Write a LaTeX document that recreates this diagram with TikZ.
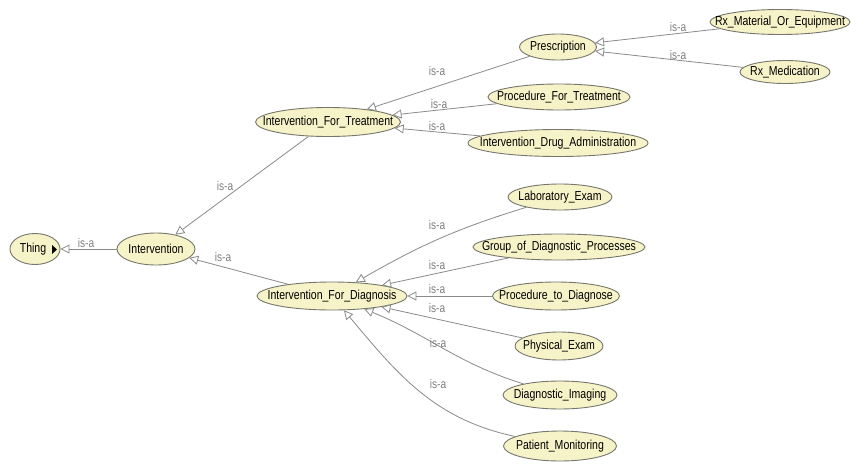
\documentclass[tikz,border=0pt]{standalone}
\usepackage{fontspec}
\setmainfont{Liberation Sans}[FakeStretch=0.81]
\usetikzlibrary{shapes.geometric,arrows.meta}
\definecolor{clsfill}{HTML}{F7F3C8}
\definecolor{clsline}{HTML}{76766C}
\definecolor{edgegrey}{HTML}{8A8A8A}
\definecolor{labgrey}{HTML}{7E7E7E}
% class names are typeset with zero width so the ellipse keeps its given size
\newcommand\cname[1]{\makebox[0pt]{#1}}

\begin{document}
\begin{tikzpicture}[x=1pt,y=-1pt,
  cls/.style={ellipse, draw=clsline, fill=clsfill, line width=0.9pt,
    inner sep=0pt, font=\fontsize{13}{15}\selectfont},
  isa/.style={draw=edgegrey, line width=0.8pt,
    -{Triangle[open,length=9pt,width=9pt]}},
  lab/.style={text=labgrey, font=\fontsize{12.5}{14}\selectfont, inner sep=0pt}]

\useasboundingbox[fill=white] (0,0) rectangle (851,463);

% classes
\node[cls, minimum width=50, minimum height=31] (thing) at (35,249) {\cname{Thing\hspace*{4pt}}};
\node[cls, minimum width=78, minimum height=32] (intv) at (156,249) {\cname{Intervention}};
\node[cls, minimum width=145, minimum height=29] (ift) at (328,122) {\cname{Intervention\_For\_Treatment}};
\node[cls, minimum width=142, minimum height=26] (pft) at (559,97) {\cname{Procedure\_For\_Treatment}};
\node[cls, minimum width=180, minimum height=27] (ida) at (558,143) {\cname{Intervention\_Drug\_Administration}};
\node[cls, minimum width=77, minimum height=26] (presc) at (558,47) {\cname{Prescription}};
\node[cls, minimum width=140, minimum height=25] (rxm) at (780,22) {\cname{Rx\_Material\_Or\_Equipment}};
\node[cls, minimum width=90, minimum height=23] (rxmed) at (785,72) {\cname{Rx\_Medication}};
\node[cls, minimum width=150, minimum height=28] (ifd) at (332,296) {\cname{Intervention\_For\_Diagnosis}};
\node[cls, minimum width=104, minimum height=26] (labx) at (560,197) {\cname{Laboratory\_Exam}};
\node[cls, minimum width=172, minimum height=26] (grp) at (559,247) {\cname{Group\_of\_Diagnostic\_Processes}};
\node[cls, minimum width=127, minimum height=28] (ptd) at (556,296) {\cname{Procedure\_to\_Diagnose}};
\node[cls, minimum width=88, minimum height=28] (phys) at (559,346) {\cname{Physical\_Exam}};
\node[cls, minimum width=114, minimum height=28] (dimg) at (560,395) {\cname{Diagnostic\_Imaging}};
\node[cls, minimum width=113, minimum height=30] (pmon) at (560,446) {\cname{Patient\_Monitoring}};

% expand marker inside Thing
\fill (52,245) -- (52,254) -- (57,249.5) -- cycle;

% subclass links (out/in angles are page angles, y up)
\draw[isa] (intv) -- (thing);
\draw[isa] (ift) -- (intv);
\draw[isa] (ifd) -- (intv);
\draw[isa] (presc) -- (ift);
\draw[isa] (pft) -- (ift);
\draw[isa] (ida) -- (ift);
\draw[isa] (rxm) -- (presc);
\draw[isa] (rxmed) -- (presc);
\draw[isa] (labx) to[out=197,in=30] (ifd);
\draw[isa] (grp) -- (ifd);
\draw[isa] (ptd) -- (ifd);
\draw[isa] (phys) -- (ifd);
\draw[isa] (dimg) to[out=163,in=338] (ifd);
\draw[isa] (pmon) to[out=168,in=310] (ifd);

% link labels
\node[lab] (l1) at (86,243) {is-a};
\node[lab] (l2) at (225,186) {is-a};
\node[lab] (l3) at (223,257) {is-a};
\node[lab] (l4) at (437,71) {is-a};
\node[lab] (l5) at (439,104) {is-a};
\node[lab] (l6) at (437,126) {is-a};
\node[lab] (l7) at (678,27) {is-a};
\node[lab] (l8) at (678,55) {is-a};
\node[lab] (l9) at (437,225) {is-a};
\node[lab] (l10) at (437,265) {is-a};
\node[lab] (l11) at (437,289) {is-a};
\node[lab] (l12) at (437,308) {is-a};
\node[lab] (l13) at (438,343) {is-a};
\node[lab] (l14) at (438,384) {is-a};
\end{tikzpicture}
\end{document}
